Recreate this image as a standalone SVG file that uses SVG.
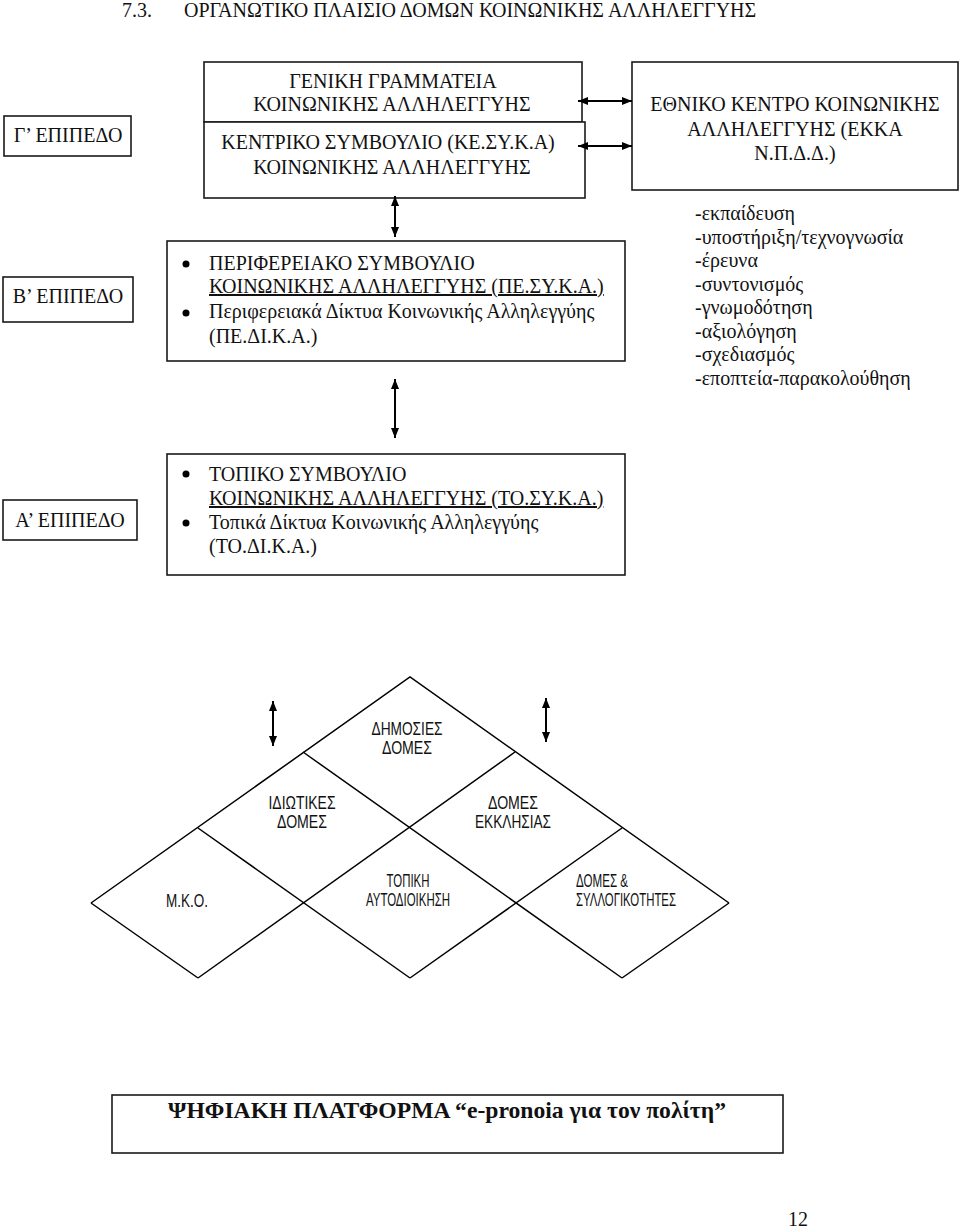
<svg xmlns="http://www.w3.org/2000/svg" width="960" height="1228" viewBox="0 0 960 1228">
<style>
.bg{fill:#fff}
.box{fill:#fff;stroke:#1a1a1a;stroke-width:1.6}
.t{font-family:"Liberation Serif","Times New Roman",serif;font-size:20px;fill:#111}
.tc{text-anchor:middle}
.s{font-family:"Liberation Sans",Arial,sans-serif;font-size:17.5px;fill:#111}
.conn{stroke:#000;stroke-width:2;fill:none}
.lat{stroke:#000;stroke-width:1.5;fill:none}
.bul{fill:#000}
.b{font-weight:bold;font-size:23px}
</style>
<defs>
<marker id="ah" viewBox="0 0 10 8" refX="10" refY="4" markerWidth="10" markerHeight="8" markerUnits="userSpaceOnUse" orient="auto-start-reverse">
<path d="M0,0 L10,4 L0,8 z" fill="#000"/>
</marker>
</defs>
<rect class="bg" x="0" y="0" width="960" height="1228"/>

<g id="title">
<text class="t" y="17" font-size="19"><tspan x="122">7.3.</tspan><tspan x="184">ΟΡΓΑΝΩΤΙΚΟ ΠΛΑΙΣΙΟ ΔΟΜΩΝ ΚΟΙΝΩΝΙΚΗΣ ΑΛΛΗΛΕΓΓΥΗΣ</tspan></text>
</g>

<g id="level-g">
<rect class="box" x="4" y="116" width="127" height="40"/>
<text class="t tc" x="68" y="142">Γ’ ΕΠΙΠΕΔΟ</text>
</g>
<g id="level-b">
<rect class="box" x="3" y="277" width="130" height="45"/>
<text class="t tc" x="68" y="303">Β’ ΕΠΙΠΕΔΟ</text>
</g>
<g id="level-a">
<rect class="box" x="3" y="500" width="134" height="40"/>
<text class="t tc" x="70" y="527">Α’ ΕΠΙΠΕΔΟ</text>
</g>

<g id="node-gen-gram">
<rect class="box" x="204" y="62" width="378" height="60"/>
<text class="t tc" x="393" y="88">ΓΕΝΙΚΗ ΓΡΑΜΜΑΤΕΙΑ</text>
<text class="t tc" x="392" y="111">ΚΟΙΝΩΝΙΚΗΣ ΑΛΛΗΛΕΓΓΥΗΣ</text>
</g>
<g id="node-kesyka">
<rect class="box" x="204" y="122" width="381" height="76"/>
<text class="t tc" x="388" y="149">ΚΕΝΤΡΙΚΟ ΣΥΜΒΟΥΛΙΟ (ΚΕ.ΣΥ.Κ.Α)</text>
<text class="t tc" x="392" y="174">ΚΟΙΝΩΝΙΚΗΣ ΑΛΛΗΛΕΓΓΥΗΣ</text>
</g>
<g id="node-ekka">
<rect class="box" x="632" y="62" width="326" height="128"/>
<text class="t tc" x="795" y="111">ΕΘΝΙΚΟ ΚΕΝΤΡΟ ΚΟΙΝΩΝΙΚΗΣ</text>
<text class="t tc" x="795" y="136">ΑΛΛΗΛΕΓΓΥΗΣ (ΕΚΚΑ</text>
<text class="t tc" x="795" y="160">Ν.Π.Δ.Δ.)</text>
</g>
<g id="ekka-roles">
<text class="t" x="695" y="220">-εκπαίδευση</text>
<text class="t" x="695" y="243.5">-υποστήριξη/τεχνογνωσία</text>
<text class="t" x="695" y="267">-έρευνα</text>
<text class="t" x="695" y="290.5">-συντονισμός</text>
<text class="t" x="695" y="314">-γνωμοδότηση</text>
<text class="t" x="695" y="337.5">-αξιολόγηση</text>
<text class="t" x="695" y="361">-σχεδιασμός</text>
<text class="t" x="695" y="384.5">-εποπτεία-παρακολούθηση</text>
</g>

<g id="node-pesyka">
<rect class="box" x="167" y="241" width="458" height="120"/>
<circle class="bul" cx="186" cy="264" r="3.5"/>
<circle class="bul" cx="186" cy="313" r="3.5"/>
<text class="t" x="209" y="270">ΠΕΡΙΦΕΡΕΙΑΚΟ ΣΥΜΒΟΥΛΙΟ</text>
<text class="t" x="209" y="293" text-decoration="underline">ΚΟΙΝΩΝΙΚΗΣ ΑΛΛΗΛΕΓΓΥΗΣ (ΠΕ.ΣΥ.Κ.Α.)</text>
<text class="t" x="209" y="318">Περιφερειακά Δίκτυα Κοινωνικής Αλληλεγγύης</text>
<text class="t" x="209" y="343">(ΠΕ.ΔΙ.Κ.Α.)</text>
</g>

<g id="node-tosyka">
<rect class="box" x="167" y="454" width="458" height="121"/>
<circle class="bul" cx="186" cy="474" r="3.5"/>
<circle class="bul" cx="186" cy="523" r="3.5"/>
<text class="t" x="209" y="481">ΤΟΠΙΚΟ ΣΥΜΒΟΥΛΙΟ</text>
<text class="t" x="209" y="505" text-decoration="underline">ΚΟΙΝΩΝΙΚΗΣ ΑΛΛΗΛΕΓΓΥΗΣ (ΤΟ.ΣΥ.Κ.Α.)</text>
<text class="t" x="209" y="529">Τοπικά Δίκτυα Κοινωνικής Αλληλεγγύης</text>
<text class="t" x="209" y="553">(ΤΟ.ΔΙ.Κ.Α.)</text>
</g>

<g id="structures-lattice">
<path class="lat" d="M91,903 L410,677 L729,903"/>
<path class="lat" d="M303,752 L622,978"/>
<path class="lat" d="M198,828 L410,978"/>
<path class="lat" d="M91,903 L198,978"/>
<path class="lat" d="M198,978 L515,752"/>
<path class="lat" d="M410,978 L622,828"/>
<path class="lat" d="M622,978 L729,903"/>
</g>
<g id="node-dimosies">
<text class="s tc" x="407" y="735" textLength="71" lengthAdjust="spacingAndGlyphs">ΔΗΜΟΣΙΕΣ</text>
<text class="s tc" x="407" y="754" textLength="50" lengthAdjust="spacingAndGlyphs">ΔΟΜΕΣ</text>
</g>
<g id="node-idiotikes">
<text class="s tc" x="302" y="809" textLength="67" lengthAdjust="spacingAndGlyphs">ΙΔΙΩΤΙΚΕΣ</text>
<text class="s tc" x="302" y="828" textLength="50" lengthAdjust="spacingAndGlyphs">ΔΟΜΕΣ</text>
</g>
<g id="node-ekklisias">
<text class="s tc" x="513" y="809" textLength="50" lengthAdjust="spacingAndGlyphs">ΔΟΜΕΣ</text>
<text class="s tc" x="513" y="828" textLength="76" lengthAdjust="spacingAndGlyphs">ΕΚΚΛΗΣΙΑΣ</text>
</g>
<g id="node-mko">
<text class="s tc" x="187" y="907" textLength="42" lengthAdjust="spacingAndGlyphs">Μ.Κ.Ο.</text>
</g>
<g id="node-topiki">
<text class="s tc" x="408" y="887" textLength="43" lengthAdjust="spacingAndGlyphs">ΤΟΠΙΚΗ</text>
<text class="s tc" x="408" y="906" textLength="84" lengthAdjust="spacingAndGlyphs">ΑΥΤΟΔΙΟΙΚΗΣΗ</text>
</g>
<g id="node-syllogikotites">
<text class="s" x="576" y="887" textLength="52" lengthAdjust="spacingAndGlyphs">ΔΟΜΕΣ &amp;</text>
<text class="s" x="576" y="906" textLength="100" lengthAdjust="spacingAndGlyphs">ΣΥΛΛΟΓΙΚΟΤΗΤΕΣ</text>
</g>

<g id="node-platform">
<rect class="box" x="112" y="1095" width="671" height="58"/>
<text class="t b" x="168" y="1118" textLength="558" lengthAdjust="spacingAndGlyphs">ΨΗΦΙΑΚΗ ΠΛΑΤΦΟΡΜΑ “e-pronoia για τον πολίτη”</text>
</g>

<g id="page-number">
<text class="t" x="788" y="1226" font-size="19">12</text>
</g>

<g id="connectors">
<line class="conn" x1="578" y1="101" x2="632" y2="101" marker-start="url(#ah)" marker-end="url(#ah)"/>
<line class="conn" x1="578" y1="146" x2="632" y2="146" marker-start="url(#ah)" marker-end="url(#ah)"/>
<line class="conn" x1="395" y1="196" x2="395" y2="237" marker-start="url(#ah)" marker-end="url(#ah)"/>
<line class="conn" x1="395" y1="379" x2="395" y2="438" marker-start="url(#ah)" marker-end="url(#ah)"/>
<line class="conn" x1="273" y1="701" x2="273" y2="746" marker-start="url(#ah)" marker-end="url(#ah)"/>
<line class="conn" x1="546" y1="698" x2="546" y2="742" marker-start="url(#ah)" marker-end="url(#ah)"/>
</g>
</svg>
